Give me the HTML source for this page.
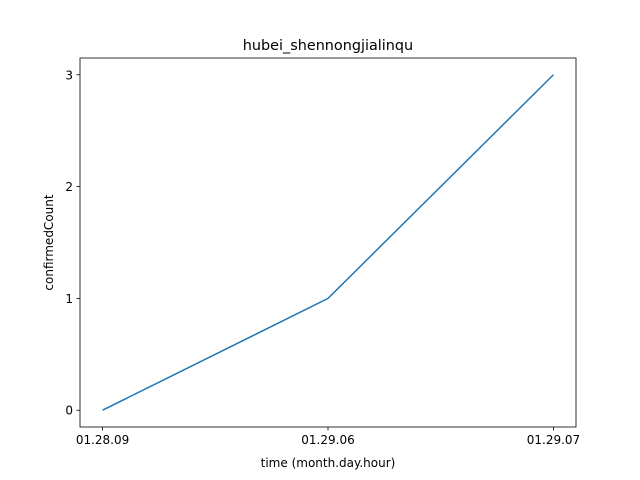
<!DOCTYPE html>
<html><head><meta charset="utf-8"><style>
body{margin:0;background:#fff;}
svg{display:block;font-family:"DejaVu Sans","Liberation Sans",sans-serif;}
</style></head><body>
<svg id="chart" width="640" height="480">
<rect width="640" height="480" fill="#fff"/>
<text x="328" y="50" text-anchor="middle" font-size="14.4">hubei_shennongjialinqu</text>
<g id="plot"></g>
<text x="328" y="467" text-anchor="middle" font-size="12">time (month.day.hour)</text>
<text transform="translate(53,242.5) rotate(-90)" text-anchor="middle" font-size="12">confirmedCount</text>
</svg>
<script>
const categories = ["01.28.09","01.29.06","01.29.07"];
const values = [0,1,3];
const yTicks = [0,1,2,3];
const L=80,R=576,T=58,B=427;
const n=categories.length;
const xmin=-0.1,xmax=(n-1)+0.1;
const vmin=Math.min(...values),vmax=Math.max(...values),pad=(vmax-vmin)*0.05;
const ymin=vmin-pad,ymax=vmax+pad;
const sx=i=>L+(i-xmin)/(xmax-xmin)*(R-L);
const sy=v=>B-(v-ymin)/(ymax-ymin)*(B-T);
const g=document.getElementById('plot');
const NS='http://www.w3.org/2000/svg';
function mk(t,a){const e=document.createElementNS(NS,t);for(const k in a)e.setAttribute(k,a[k]);g.appendChild(e);return e;}
categories.forEach((c,i)=>{
  const x=sx(i);
  const tk=mk('line',{x1:x,x2:x,y1:B,y2:B+3.5,stroke:'#000','stroke-width':0.8});
  
  
  const t=mk('text',{x:x,y:B+17,'text-anchor':'middle','font-size':12});
  t.textContent=c;
  
  
});
yTicks.forEach(v=>{
  const y=sy(v);
  const tk=mk('line',{x1:L-3.5,x2:L,y1:y,y2:y,stroke:'#000','stroke-width':0.8});
  
  
  const t=mk('text',{x:L-7,y:y+4.5,'text-anchor':'end','font-size':12});
  t.textContent=v;
  
  
});
const pts=values.map((v,i)=>sx(i)+','+sy(v)).join(' ');
const line=mk('polyline',{points:pts,fill:'none',stroke:'#1f77b4','stroke-width':1.5});


const frame=mk('rect',{x:L,y:T,width:R-L,height:B-T,fill:'none',stroke:'#000','stroke-width':0.8});


</script>
</body></html>
